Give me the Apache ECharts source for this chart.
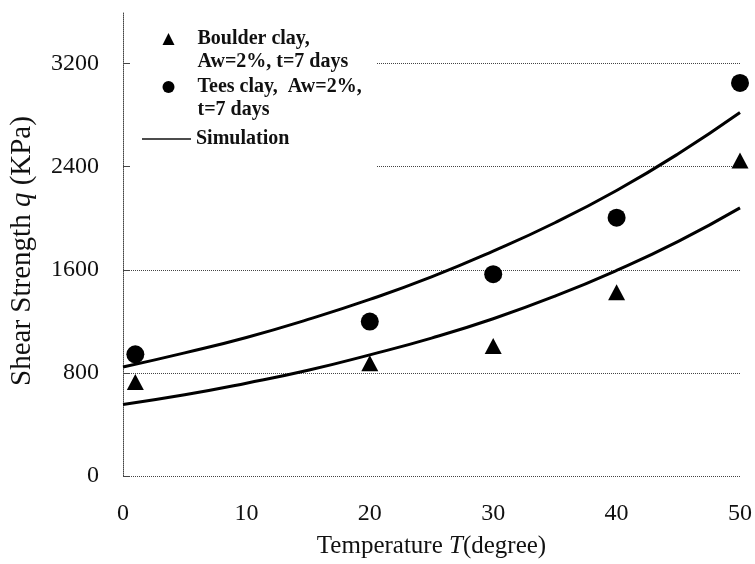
<!DOCTYPE html>
<html>
<head>
<meta charset="utf-8">
<script src="https://cdn.jsdelivr.net/npm/echarts@6/dist/echarts.min.js"></script>
<style>
  html, body { margin: 0; padding: 0; background: #fff; }
  #chart { width: 755px; height: 564px; }
</style>
</head>
<body>
<div id="chart"></div>
<script>
// measured points
var boulderT = [1, 20, 30, 40, 50];
var boulderQ = [729, 875, 1008, 1426, 2447];
var teesT = [1, 20, 30, 40, 50];
var teesQ = [944, 1198, 1566, 2004, 3050];

// simulation curves, every 5 degrees
var simT = [0, 5, 10, 15, 20, 25, 30, 35, 40, 45, 50];
var simTees = [845, 955, 1075, 1215, 1370, 1545, 1745, 1965, 2215, 2500, 2820];
var simBoulder = [555, 630, 720, 820, 940, 1070, 1220, 1395, 1595, 1820, 2080];

var legendNames = ['Boulder clay', 'Tees clay', 'Simulation'];
var legendLines = [['Boulder clay,', 'Aw=2%, t=7 days'], ['Tees clay,  Aw=2%,', 't=7 days'], ['Simulation']];

var SERIF = '"Liberation Serif", "Times New Roman", serif';
var GRID_LINE = { color: '#444', type: 'dotted', width: 1 };

function pairs(xs, ys) {
    return xs.map(function (x, i) { return [x, ys[i]]; });
}

var legendFont = {
    fontFamily: SERIF,
    fontWeight: 'bold',
    fontSize: 20,
    color: '#111',
    lineHeight: 23
};

// empty first row keeps the symbol level with the first text line
function markerLegend(idx, top) {
    return {
        data: [legendNames[idx]],
        left: 162.5,
        top: top,
        padding: 0,
        itemWidth: 12,
        itemHeight: 12,
        selectedMode: false,
        formatter: function () {
            return '{g| }\n' + legendLines[idx].map(function (s) { return '{t|' + s + '}'; }).join('\n');
        },
        textStyle: Object.assign({
            rich: {
                g: Object.assign({}, legendFont),
                t: Object.assign({ padding: [0, 0, 0, 18] }, legendFont)
            }
        }, legendFont)
    };
}

var chart = echarts.init(document.getElementById('chart'), null, { renderer: 'canvas' });

chart.setOption({
    backgroundColor: '#fff',
    animation: false,
    grid: { left: 122, right: 12, top: 12, bottom: 84 },
    graphic: {
        elements: [{
            type: 'rect',
            z: 1,
            shape: { x: 130, y: 18, width: 247, height: 158 },
            style: { fill: '#fff' }
        }]
    },
    legend: [
        markerLegend(0, 4.5),
        markerLegend(1, 52.5),
        {
            data: [{ name: legendNames[2], icon: 'rect' }],
            left: 142,
            top: 127.5,
            padding: 0,
            itemWidth: 49,
            itemHeight: 1.6,
            selectedMode: false,
            itemStyle: { color: '#111' },
            formatter: function () { return legendLines[2][0]; },
            textStyle: legendFont
        }
    ],
    xAxis: {
        type: 'value',
        min: 0,
        max: 50,
        interval: 10,
        name: 'Temperature {i|T}(degree)',
        nameLocation: 'middle',
        nameGap: 58,
        nameTextStyle: {
            fontFamily: SERIF, fontSize: 25, color: '#111',
            rich: { i: { fontFamily: SERIF, fontSize: 25, fontStyle: 'italic', color: '#111' } }
        },
        axisLine: { show: false },
        axisTick: { show: false },
        splitLine: { show: false },
        axisLabel: { fontFamily: SERIF, fontSize: 24, color: '#111', margin: 26 }
    },
    yAxis: {
        type: 'value',
        min: 0,
        max: 3600,
        interval: 800,
        name: 'Shear Strength {i|q} (KPa)',
        nameLocation: 'middle',
        nameGap: 86,
        nameTextStyle: {
            fontFamily: SERIF, fontSize: 29, color: '#111', padding: [0, 14, 0, 0],
            rich: { i: { fontFamily: SERIF, fontSize: 29, fontStyle: 'italic', color: '#111' } }
        },
        axisLine: { show: true, lineStyle: GRID_LINE },
        axisTick: { show: true, inside: true, length: 6, lineStyle: { color: '#444' } },
        splitLine: { show: true, showMaxLine: false, lineStyle: GRID_LINE },
        axisLabel: {
            fontFamily: SERIF, fontSize: 24, color: '#111', margin: 24, showMaxLabel: false,
            formatter: function (v) { return String(v); }
        }
    },
    series: [
        {
            name: 'Simulation',
            type: 'line',
            data: pairs(simT, simTees),
            smooth: true,
            symbol: 'none',
            lineStyle: { color: '#000', width: 3 },
            itemStyle: { color: '#000' }
        },
        {
            name: 'Simulation',
            type: 'line',
            data: pairs(simT, simBoulder),
            smooth: true,
            symbol: 'none',
            lineStyle: { color: '#000', width: 3 },
            itemStyle: { color: '#000' }
        },
        {
            name: 'Boulder clay',
            type: 'scatter',
            data: pairs(boulderT, boulderQ),
            symbol: 'triangle',
            symbolSize: [17, 16],
            itemStyle: { color: '#000', opacity: 1 },
            z: 3
        },
        {
            name: 'Tees clay',
            type: 'scatter',
            data: pairs(teesT, teesQ),
            symbol: 'circle',
            symbolSize: 18,
            itemStyle: { color: '#000', opacity: 1 },
            z: 3
        }
    ]
});
</script>
</body>
</html>
